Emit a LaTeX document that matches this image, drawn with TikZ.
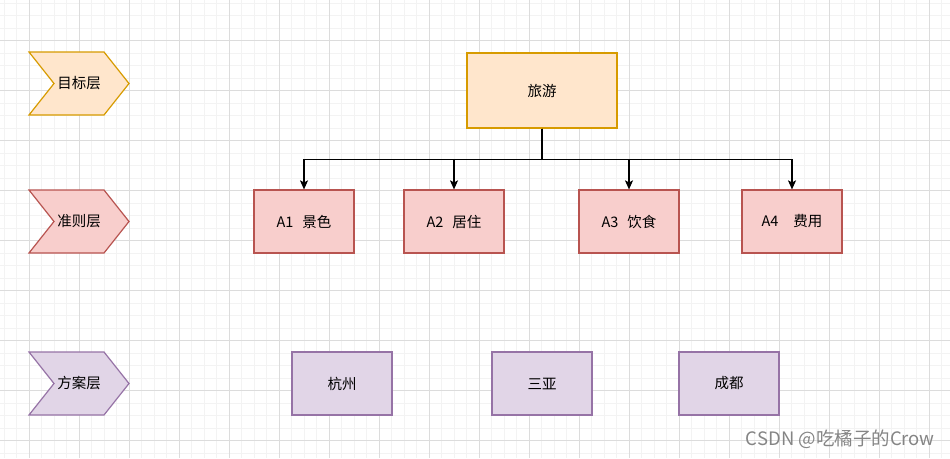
\documentclass[tikz,border=0pt]{standalone}
\usepackage{fontspec}
\setmainfont{Noto Sans CJK SC}
\usetikzlibrary{arrows.meta}
\definecolor{gridminor}{HTML}{F3F3F3}
\definecolor{gridmajor}{HTML}{DCDCDC}
\definecolor{orfill}{HTML}{FFE6CC}
\definecolor{ordraw}{HTML}{D79B00}
\definecolor{rdfill}{HTML}{F8CECC}
\definecolor{rddraw}{HTML}{B85450}
\definecolor{pufill}{HTML}{E1D5E7}
\definecolor{pudraw}{HTML}{9673A6}
\tikzset{
  lbl/.style={font=\fontsize{14.5}{16}\selectfont, inner sep=0pt},
  boxbase/.style={draw, line width=1.2pt, minimum width=100pt, minimum height=63pt, inner sep=0pt, font=\fontsize{14.5}{16}\selectfont},
  orbox/.style={boxbase, fill=orfill, draw=ordraw},
  rdbox/.style={boxbase, fill=rdfill, draw=rddraw},
  pubox/.style={boxbase, fill=pufill, draw=pudraw},
  chev/.style={line width=1.2pt},
  arr/.style={line width=1.2pt, -{Stealth[length=9pt,width=8pt,inset=2pt]}},
}
\begin{document}
\begin{tikzpicture}[x=1pt,y=-1pt]
\useasboundingbox (0,0) rectangle (950,458);
\fill[white] (0,0) rectangle (950,458);
% grid
\foreach \i in {0,...,75} {
  \draw[gridminor, line width=1pt] ({4+12.5*\i},0) -- ({4+12.5*\i},458);
}
\foreach \i in {0,...,36} {
  \draw[gridminor, line width=1pt] (0,{3+12.5*\i}) -- (950,{3+12.5*\i});
}
\foreach \i in {0,...,18} {
  \draw[gridmajor, line width=1pt] ({29+50*\i},0) -- ({29+50*\i},458);
}
\foreach \i in {0,...,8} {
  \draw[gridmajor, line width=1pt] (0,{40.5+50*\i}) -- (950,{40.5+50*\i});
}
% chevrons
\draw[chev, fill=orfill, draw=ordraw] (29,52) -- (104,52) -- (129,83.5) -- (104,115) -- (29,115) -- (54,83.5) -- cycle;
\node[lbl] (goal) at (79,83.5) {目标层};
\draw[chev, fill=rdfill, draw=rddraw] (29,190) -- (104,190) -- (129,221.5) -- (104,253) -- (29,253) -- (54,221.5) -- cycle;
\node[lbl] (crit) at (79,221.5) {准则层};
\draw[chev, fill=pufill, draw=pudraw] (29,352) -- (104,352) -- (129,383.5) -- (104,415) -- (29,415) -- (54,383.5) -- cycle;
\node[lbl] (plan) at (79,383.5) {方案层};
% boxes
\node[orbox, minimum width=150pt, minimum height=75pt] (top) at (542,90.5) {旅游};
\node[rdbox] (a1) at (304,221.5) {A1\hspace{9pt}景色};
\node[rdbox] (a2) at (454,221.5) {A2\hspace{9pt}居住};
\node[rdbox] (a3) at (629,221.5) {A3\hspace{9pt}饮食};
\node[rdbox] (a4) at (792,221.5) {A4\hspace{15pt}费用};
\node[pubox] (p1) at (342,383.5) {杭州};
\node[pubox] (p2) at (542,383.5) {三亚};
\node[pubox] (p3) at (729,383.5) {成都};
% connectors
\foreach \c in {a1,a2,a3,a4} {
  \draw[arr] (top.south) -- ++(0,31) -| (\c.north);
}
% watermark
\node[font=\fontsize{18.5}{20}\selectfont, text=black!48, anchor=east, inner sep=0pt] (wm) at (935,439) {CSDN @吃橘子的Crow};
\end{tikzpicture}
\end{document}
